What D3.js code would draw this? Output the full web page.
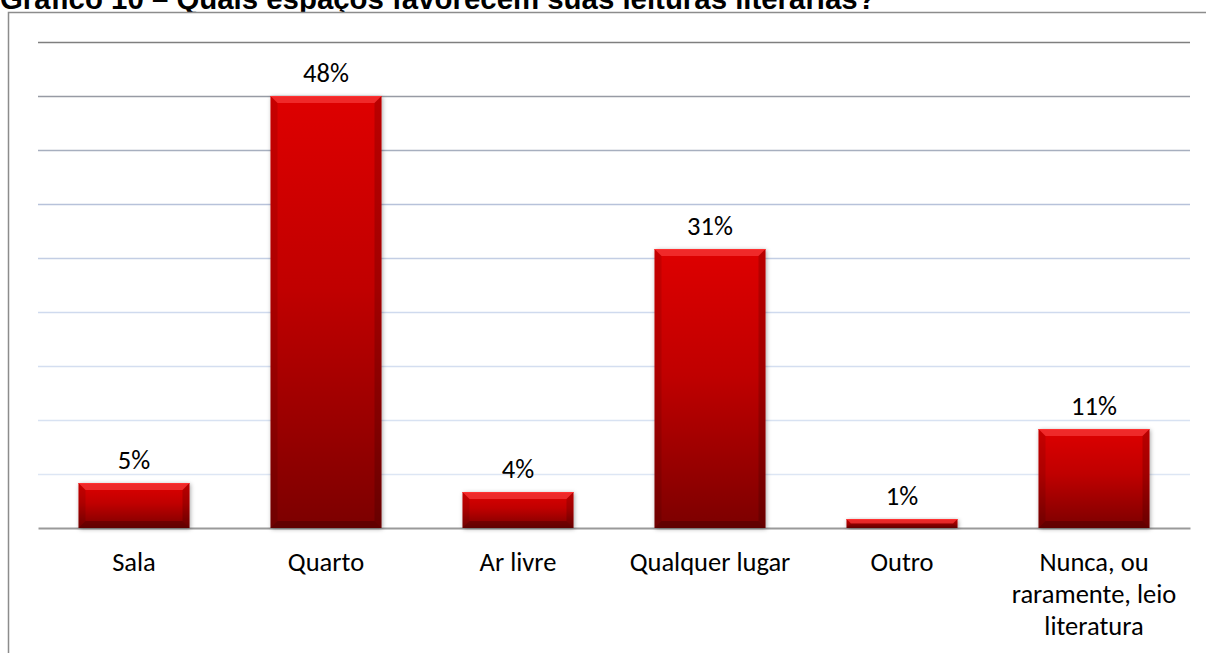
<!DOCTYPE html>
<html>
<head>
<meta charset="utf-8">
<script src="https://cdn.jsdelivr.net/npm/d3@7"></script>
<style>
  html, body { margin: 0; padding: 0; background: #fff; }
  svg { display: block; }
</style>
</head>
<body>
<svg id="chart" width="1206" height="653"></svg>
<script>
// Survey answers: where students read literature
const categories = ["Sala", "Quarto", "Ar livre", "Qualquer lugar", "Outro", "Nunca, ou\nraramente, leio\nliteratura"];
const values = [5, 48, 4, 31, 1, 11];
const gridTicks = [6, 12, 18, 24, 30, 36, 42, 48, 54];
const titleText = "Gráfico 10 – Quais espaços favorecem suas leituras literárias?";

const W = 1206, H = 653;
const plot = { left: 38, right: 1190, top: 42, bottom: 528 };
const labelFont = "Calibri, Carlito, Lato, 'Noto Sans', sans-serif";
const labelSize = 26.5;

const svg = d3.select("#chart");
const defs = svg.append("defs");

// Vertical red fill for the columns
const grad = defs.append("linearGradient")
  .attr("id", "barFill").attr("x1", 0).attr("y1", 0).attr("x2", 0).attr("y2", 1);
grad.append("stop").attr("offset", "0%").attr("stop-color", "#de0303");
grad.append("stop").attr("offset", "45%").attr("stop-color", "#c00202");
grad.append("stop").attr("offset", "100%").attr("stop-color", "#7c0000");

// Soft shadow around each column
const shadow = defs.append("filter").attr("id", "barShadow")
  .attr("x", "-20%").attr("y", "-20%").attr("width", "140%").attr("height", "140%");
shadow.append("feDropShadow")
  .attr("dx", 1).attr("dy", 1).attr("stdDeviation", 2.2)
  .attr("flood-color", "#000").attr("flood-opacity", 0.35);

// Title (partly clipped by the top edge)
svg.append("text")
  .attr("x", 0).attr("y", 9)
  .attr("font-family", "Arial, 'Liberation Sans', sans-serif")
  .attr("font-weight", "bold")
  .attr("font-size", 29.4)
  .attr("fill", "#000")
  .text(titleText);

// Outer chart frame
svg.append("rect")
  .attr("x", 8.5).attr("y", 12.5)
  .attr("width", W + 10).attr("height", H + 10)
  .attr("fill", "#fff").attr("stroke", "#8c8c8c").attr("stroke-width", 1.5);

const x = d3.scaleBand().domain(categories).range([plot.left, plot.right]).padding(0);
const y = d3.scaleLinear().domain([0, 54]).range([plot.bottom, plot.top]);

// Gridlines fade from grey at the top to pale blue lower down
const gridColor = d3.scaleLinear()
  .domain([6, 24, 36, 48, 54])
  .range(["#dde6f4", "#cfdaee", "#b7c2da", "#979ba4", "#7f7f7f"])
  .interpolate(d3.interpolateRgb);

const gridAxis = d3.axisLeft(y).tickValues(gridTicks)
  .tickSize(-(plot.right - plot.left)).tickFormat("");
const gridG = svg.append("g")
  .attr("transform", `translate(${plot.left},0)`)
  .call(gridAxis);
gridG.select(".domain").remove();
gridG.selectAll(".tick line")
  .attr("stroke", d => gridColor(d))
  .attr("stroke-width", 1.6);

// Category axis along the baseline
const xAxis = d3.axisBottom(x).tickSize(0).tickFormat("");
const xG = svg.append("g")
  .attr("transform", `translate(0,${plot.bottom})`)
  .call(xAxis);
xG.select(".domain").attr("stroke", "#9a9a9a").attr("stroke-width", 2);

// Columns
const barW = x.bandwidth() * 0.578;
const bars = svg.append("g").selectAll("g.bar")
  .data(categories.map((c, i) => ({ c, v: values[i] })))
  .join("g").attr("class", "bar");

bars.each(function (d) {
  const g = d3.select(this);
  const x0 = x(d.c) + (x.bandwidth() - barW) / 2;
  const y0 = y(d.v);
  const h = y(0) - y0;
  const b = Math.min(7, h / 2);
  g.append("rect")
    .attr("x", x0).attr("y", y0).attr("width", barW).attr("height", h)
    .attr("fill", "url(#barFill)")
    .attr("filter", "url(#barShadow)");
  // bevelled edges
  const poly = (pts, fill, op) => g.append("polygon")
    .attr("points", pts.map(p => p.join(",")).join(" "))
    .attr("fill", fill).attr("fill-opacity", op);
  poly([[x0, y0], [x0 + barW, y0], [x0 + barW - b, y0 + b], [x0 + b, y0 + b]], "#ff4a4a", 0.55);
  poly([[x0, y0], [x0 + b, y0 + b], [x0 + b, y0 + h - b], [x0, y0 + h]], "#000", 0.10);
  poly([[x0 + barW, y0], [x0 + barW - b, y0 + b], [x0 + barW - b, y0 + h - b], [x0 + barW, y0 + h]], "#000", 0.16);
  poly([[x0, y0 + h], [x0 + b, y0 + h - b], [x0 + barW - b, y0 + h - b], [x0 + barW, y0 + h]], "#000", 0.22);
  g.append("line")
    .attr("x1", x0).attr("x2", x0 + barW).attr("y1", y0 + 0.5).attr("y2", y0 + 0.5)
    .attr("stroke", "#ff3030").attr("stroke-width", 1);
});

// Value labels
svg.append("g").selectAll("text")
  .data(categories.map((c, i) => ({ c, v: values[i] })))
  .join("text")
  .attr("x", d => x(d.c) + x.bandwidth() / 2)
  .attr("y", d => y(d.v) - 14)
  .attr("text-anchor", "middle")
  .attr("font-family", labelFont)
  .attr("font-size", labelSize)
  .attr("fill", "#000")
  .text(d => d.v + "%");

// Category labels, possibly on several lines
const catG = svg.append("g");
categories.forEach(c => {
  const t = catG.append("text")
    .attr("x", x(c) + x.bandwidth() / 2)
    .attr("y", plot.bottom + 43)
    .attr("text-anchor", "middle")
    .attr("font-family", labelFont)
    .attr("font-size", labelSize)
    .attr("fill", "#000");
  c.split("\n").forEach((line, i) => {
    t.append("tspan")
      .attr("x", x(c) + x.bandwidth() / 2)
      .attr("dy", i === 0 ? 0 : 32)
      .text(line);
  });
});
</script>
</body>
</html>
